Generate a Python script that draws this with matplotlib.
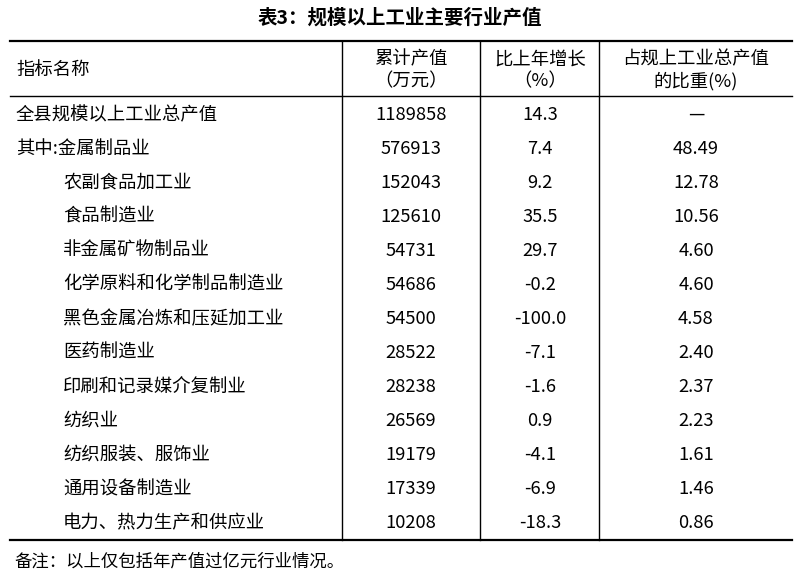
import matplotlib
matplotlib.use("Agg")
import matplotlib.pyplot as plt

plt.rcParams['font.family'] = ['Noto Sans CJK SC', 'DejaVu Sans']

title = "表3：规模以上工业主要行业产值"
headers = ["指标名称", "累计产值\n（万元）", "比上年增长\n（%）", "占规上工业总产值\n的比重(%)"]
names = ["全县规模以上工业总产值", "其中:金属制品业", "农副食品加工业", "食品制造业",
         "非金属矿物制品业", "化学原料和化学制品制造业", "黑色金属冶炼和压延加工业",
         "医药制造业", "印刷和记录媒介复制业", "纺织业", "纺织服装、服饰业",
         "通用设备制造业", "电力、热力生产和供应业"]
output = ["1189858", "576913", "152043", "125610", "54731", "54686", "54500",
          "28522", "28238", "26569", "19179", "17339", "10208"]
growth = ["14.3", "7.4", "9.2", "35.5", "29.7", "-0.2", "-100.0",
          "-7.1", "-1.6", "0.9", "-4.1", "-6.9", "-18.3"]
share = ["—", "48.49", "12.78", "10.56", "4.60", "4.60", "4.58",
         "2.40", "2.37", "2.23", "1.61", "1.46", "0.86"]
note = "备注：以上仅包括年产值过亿元行业情况。"

W, H = 800, 582
fig = plt.figure(figsize=(W/100, H/100), dpi=100)
ax = fig.add_axes([0, 0, 1, 1])
ax.set_xlim(0, W); ax.set_ylim(H, 0); ax.axis('off')

fs = 13.2
ax.text(400, 18, title, ha='center', va='center', fontsize=14, fontweight='bold')
left, right = 10, 792
top, hbot, bot = 41, 96, 540
vx = [342, 480, 599]
ax.plot([left, right], [top, top], color='black', lw=1.6)
ax.plot([left, right], [hbot, hbot], color='black', lw=1.0)
ax.plot([left, right], [bot, bot], color='black', lw=1.6)
for x in vx:
    ax.plot([x, x], [top, bot], color='black', lw=1.0)

ax.text(16, 70, headers[0], ha='left', va='center', fontsize=fs)
for cx, h in zip([411, 540, 696], headers[1:]):
    ax.text(cx, 70, h, ha='center', va='center', fontsize=fs, linespacing=1.25)

y0, dy = 115, 34.0
for i, (n, o, g, s) in enumerate(zip(names, output, growth, share)):
    y = y0 + i*dy
    x = 16 if i < 2 else 63
    ax.text(x, y, n, ha='left', va='center', fontsize=fs)
    ax.text(411, y, o, ha='center', va='center', fontsize=fs)
    ax.text(540, y, g, ha='center', va='center', fontsize=fs)
    ax.text(696, y, s, ha='center', va='center', fontsize=fs)

ax.text(14, 562, note, ha='left', va='center', fontsize=12.5)
fig.savefig("out.png", dpi=100)
